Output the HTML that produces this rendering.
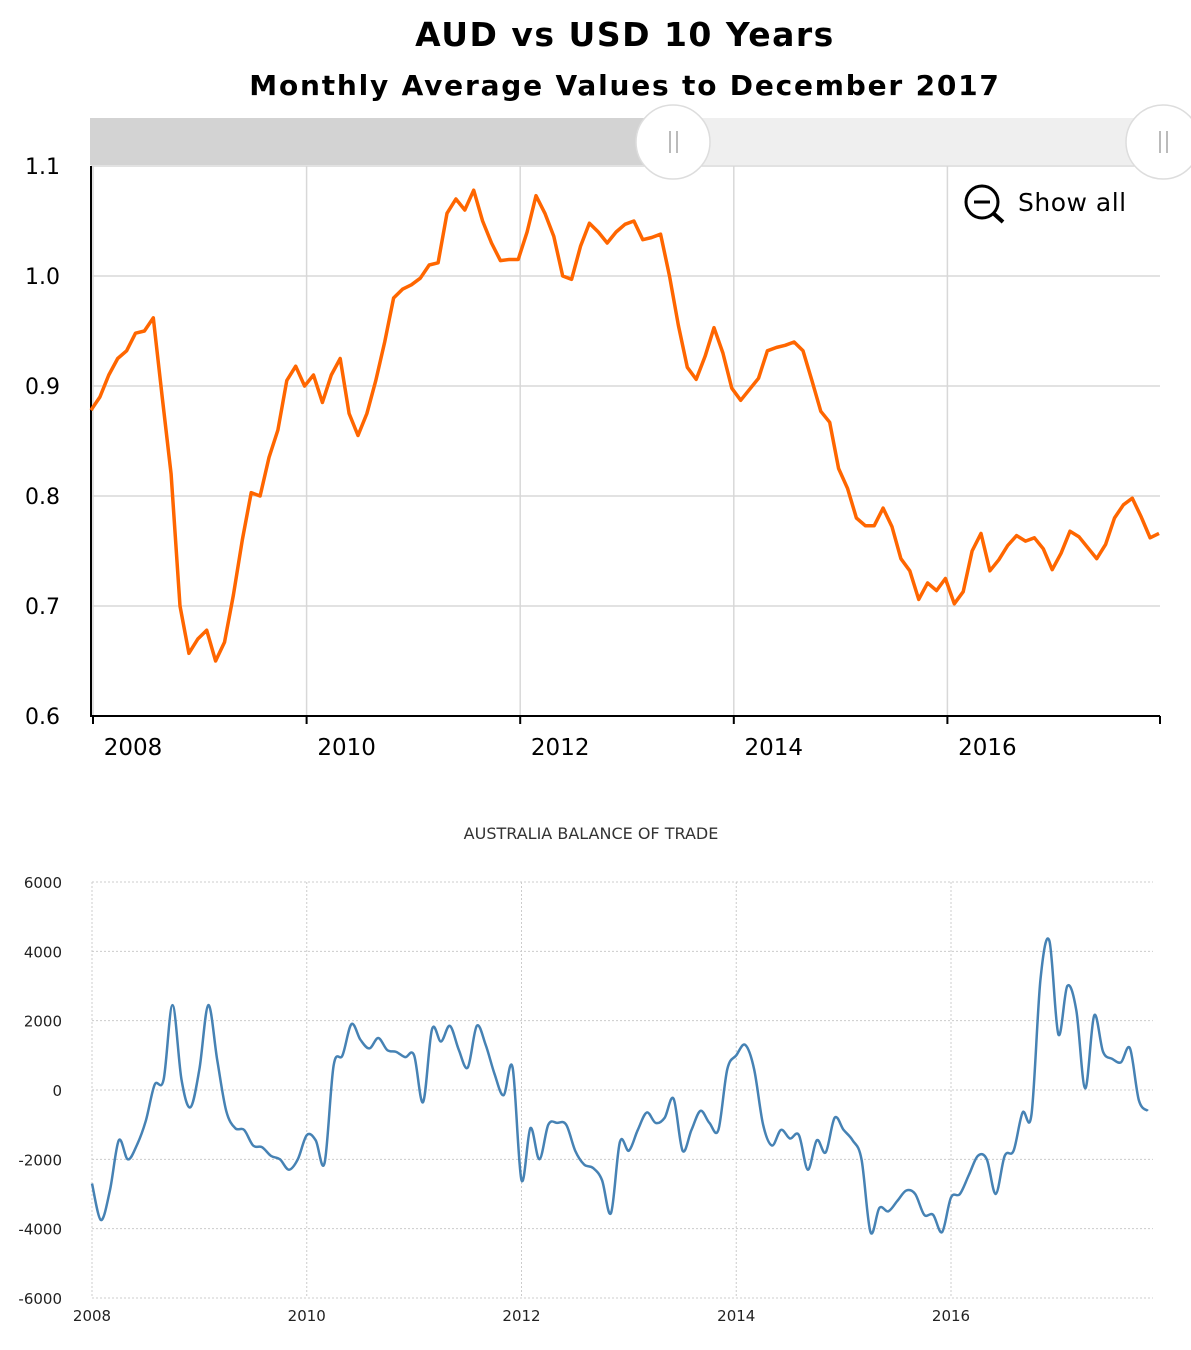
<!DOCTYPE html>
<html><head><meta charset="utf-8">
<style>
body{margin:0;background:#fff;width:1191px;height:1350px;overflow:hidden;font-family:"DejaVu Sans","Liberation Sans",sans-serif;}
svg{position:absolute;left:0;top:0}
</style></head>
<body>
<svg id="chart" width="1191" height="1350">
  <text x="625" y="46" text-anchor="middle" font-size="33" font-weight="bold" letter-spacing="1.5" fill="#000">AUD vs USD  10 Years</text>
  <text x="625" y="95" text-anchor="middle" font-size="28" font-weight="bold" letter-spacing="1.8" fill="#000">Monthly Average Values to December 2017</text>
  <g>
    <rect x="90" y="118" width="1101" height="47" fill="#efefef"/>
    <rect x="90" y="118" width="583" height="47" fill="#d3d3d3"/>
  </g>
  <g id="topG"></g>
  <g>
    <circle cx="673" cy="142" r="37" fill="#fff" stroke="#ddd" stroke-width="1.5"/>
    <rect x="669" y="131" width="2" height="22" fill="#bbb"/><rect x="676" y="131" width="2" height="22" fill="#bbb"/>
  </g>
  <g>
    <circle cx="1163" cy="142" r="37" fill="#fff" stroke="#ddd" stroke-width="1.5"/>
    <rect x="1159" y="131" width="2" height="22" fill="#bbb"/><rect x="1166" y="131" width="2" height="22" fill="#bbb"/>
  </g>
  <g>
    <circle cx="982" cy="202" r="16" fill="none" stroke="#000" stroke-width="3"/>
    <line x1="974" y1="202" x2="990" y2="202" stroke="#000" stroke-width="3"/>
    <line x1="993" y1="213" x2="1003" y2="222" stroke="#000" stroke-width="4"/>
    <text x="1018" y="211" font-size="25" letter-spacing="0.5" fill="#000">Show all</text>
  </g>
  <text x="591" y="839" text-anchor="middle" font-size="16" fill="#333">AUSTRALIA BALANCE OF TRADE</text>
  <g id="botG"></g>
</svg>
<script>
const audYears = ["2008","2010","2012","2014","2016"];
const audTicks = [0.6,0.7,0.8,0.9,1.0,1.1];
const audValues = [0.878,0.89,0.91,0.925,0.932,0.948,0.95,0.962,0.89,0.82,0.70,0.657,0.67,0.678,0.65,0.667,0.71,0.76,0.803,0.80,0.835,0.86,0.905,0.918,0.90,0.91,0.885,0.91,0.925,0.875,0.855,0.875,0.905,0.94,0.98,0.988,0.992,0.998,1.01,1.012,1.057,1.07,1.06,1.078,1.05,1.03,1.014,1.015,1.015,1.04,1.073,1.057,1.036,1.0,0.997,1.027,1.048,1.04,1.03,1.04,1.047,1.05,1.033,1.035,1.038,1.0,0.955,0.917,0.906,0.927,0.953,0.93,0.898,0.887,0.897,0.907,0.932,0.935,0.937,0.94,0.932,0.905,0.877,0.867,0.825,0.807,0.78,0.773,0.773,0.789,0.772,0.743,0.732,0.706,0.721,0.714,0.725,0.702,0.713,0.75,0.766,0.732,0.742,0.755,0.764,0.759,0.762,0.752,0.733,0.748,0.768,0.763,0.753,0.743,0.756,0.78,0.792,0.798,0.781,0.762,0.766];
const tradeYears = ["2008","2010","2012","2014","2016"];
const tradeTicks = [-6000,-4000,-2000,0,2000,4000,6000];
const tradeValues = [-2700,-3750,-2900,-1450,-2000,-1600,-900,150,300,2450,300,-500,600,2450,850,-600,-1100,-1150,-1600,-1650,-1900,-2000,-2300,-2000,-1300,-1450,-2100,700,1000,1900,1450,1200,1500,1150,1100,950,1000,-350,1750,1400,1850,1150,650,1850,1300,450,-150,650,-2600,-1100,-2000,-1000,-950,-1000,-1750,-2150,-2250,-2600,-3550,-1500,-1750,-1150,-650,-950,-800,-250,-1750,-1150,-600,-950,-1150,600,1000,1300,600,-1000,-1600,-1150,-1400,-1300,-2300,-1450,-1800,-800,-1150,-1450,-2000,-4100,-3400,-3500,-3200,-2900,-3000,-3600,-3600,-4100,-3100,-3000,-2450,-1900,-2000,-3000,-1900,-1750,-650,-700,3200,4300,1600,3000,2300,50,2150,1100,900,800,1200,-300,-600];

const NS="http://www.w3.org/2000/svg";
function mk(p,tag,a){const e=document.createElementNS(NS,tag);for(const k in a)e.setAttribute(k,a[k]);p.appendChild(e);return e;}

// top chart
const topG=document.getElementById('topG');
const tx0=91, tx1=1160, ty0=716, ty1=166, monthW=8.9;
const tX=i=>tx0+i*monthW;
const tY=v=>ty0-(v-0.6)/0.5*(ty0-ty1);
audTicks.forEach(t=>{
  if(t>0.6){const g=mk(topG,'line',{x1:tx0,x2:tx1,y1:tY(t),y2:tY(t),stroke:'#d8d8d8','stroke-width':1.5});
  
  }
  const l=mk(topG,'text',{x:60,y:tY(t)+8,'text-anchor':'end','font-size':22,fill:'#000'});
  l.textContent=t.toFixed(1);
  
  
});
audYears.forEach((y,k)=>{
  const x=tX(k*24)+2;
  const g=mk(topG,'line',{x1:x,x2:x,y1:ty1,y2:ty0,stroke:'#d8d8d8','stroke-width':1.5});
  
  
  mk(topG,'line',{x1:x,x2:x,y1:ty0,y2:ty0+8,stroke:'#000','stroke-width':2});
  const l=mk(topG,'text',{x:x+40,y:755,'text-anchor':'middle','font-size':23,fill:'#000'});
  l.textContent=y;
  
  
});
mk(topG,'line',{x1:tx1,x2:tx1,y1:ty0,y2:ty0+8,stroke:'#000','stroke-width':2});
const ax=mk(topG,'path',{d:`M${tx0} ${ty1} V${ty0} H${tx1}`,fill:'none',stroke:'#000','stroke-width':2});


const tl=mk(topG,'polyline',{points:audValues.map((v,i)=>tX(i).toFixed(1)+','+tY(v).toFixed(1)).join(' '),fill:'none',stroke:'#ff6600','stroke-width':3.5,'stroke-linejoin':'round'});



// bottom chart
const botG=document.getElementById('botG');
const bx0=92, bx1=1153, by0=1298, by1=882, bMonth=(951-92)/96;
const bX=i=>bx0+i*bMonth;
const bY=v=>by0-(v+6000)/12000*(by0-by1);
tradeTicks.forEach(t=>{
  const g=mk(botG,'line',{x1:bx0,x2:bx1,y1:bY(t),y2:bY(t),stroke:'#ccc','stroke-width':1,'stroke-dasharray':'2,2'});
  
  
  const l=mk(botG,'text',{x:62,y:bY(t)+6,'text-anchor':'end','font-size':15,fill:'#222'});
  l.textContent=t;
  
  
});
tradeYears.forEach((y,k)=>{
  const x=bX(k*24);
  const g=mk(botG,'line',{x1:x,x2:x,y1:by1,y2:by0,stroke:'#ccc','stroke-width':1,'stroke-dasharray':'2,2'});
  
  
  const l=mk(botG,'text',{x:x,y:1321,'text-anchor':'middle','font-size':15,fill:'#222'});
  l.textContent=y;
  
  
});
const pts=tradeValues.map((v,i)=>[bX(i),bY(v)]);
let d=`M${pts[0][0].toFixed(1)} ${pts[0][1].toFixed(1)}`;
for(let i=0;i<pts.length-1;i++){
  const p0=pts[Math.max(0,i-1)],p1=pts[i],p2=pts[i+1],p3=pts[Math.min(pts.length-1,i+2)];
  const c1=[p1[0]+(p2[0]-p0[0])/6,p1[1]+(p2[1]-p0[1])/6];
  const c2=[p2[0]-(p3[0]-p1[0])/6,p2[1]-(p3[1]-p1[1])/6];
  d+=` C${c1[0].toFixed(1)} ${c1[1].toFixed(1)},${c2[0].toFixed(1)} ${c2[1].toFixed(1)},${p2[0].toFixed(1)} ${p2[1].toFixed(1)}`;
}
const bl=mk(botG,'path',{d:d,fill:'none',stroke:'#4682b4','stroke-width':2.5});


</script>
</body></html>
